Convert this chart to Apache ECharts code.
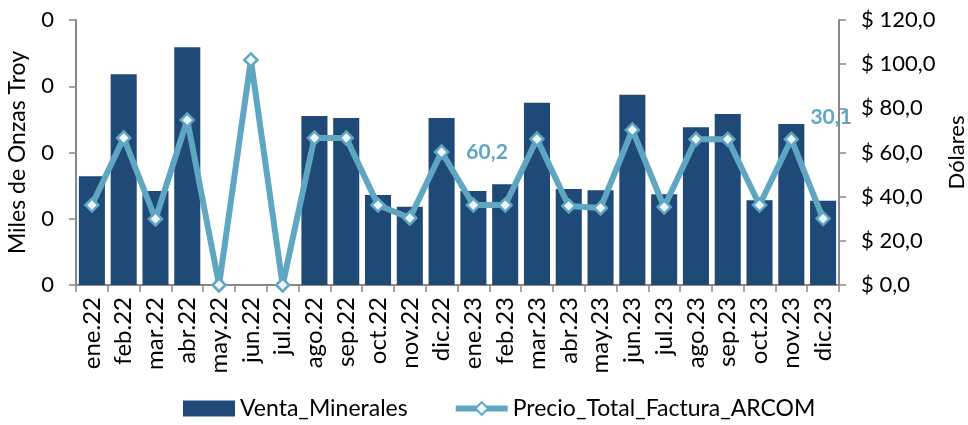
<!DOCTYPE html>
<html>
<head>
<meta charset="utf-8">
<script src="https://cdn.jsdelivr.net/npm/echarts@6/dist/echarts.min.js"></script>
<style>
  html, body { margin: 0; padding: 0; background: #fff; }
  #chart { width: 968px; height: 425px; }
</style>
</head>
<body>
<div id="chart"></div>
<script>
// datos
const meses = ["ene.22", "feb.22", "mar.22", "abr.22", "may.22", "jun.22", "jul.22", "ago.22", "sep.22", "oct.22", "nov.22", "dic.22",
  "ene.23", "feb.23", "mar.23", "abr.23", "may.23", "jun.23", "jul.23", "ago.23", "sep.23", "oct.23", "nov.23", "dic.23"];
const ventaMinerales = [0.164, 0.318, 0.142, 0.359, 0, 0, 0, 0.255, 0.252, 0.136, 0.118, 0.252,
  0.142, 0.152, 0.275, 0.145, 0.143, 0.287, 0.137, 0.238, 0.258, 0.128, 0.243, 0.127];
const precioFactura = [36.2, 66.6, 29.9, 74.7, 0, 101.9, 0, 66.6, 66.6, 36.2, 30.3, 60.2,
  36.2, 36.2, 66.1, 35.8, 34.9, 70.2, 35.3, 66.0, 66.0, 36.2, 66.0, 30.1];
const etiquetas = { 11: ["right", [12, 0]], 23: ["top", [8, -78]] }; // indices con etiqueta visible

const azulOscuro = "#1F4A78";
const azulClaro = "#5FA6C3";
const fuente = "Lato";

let myChart = echarts.init(document.getElementById("chart"));

const lineData = precioFactura.map((v, i) => {
  if (etiquetas[i] === undefined) return v;
  return {
    value: v,
    label: {
      show: true,
      position: etiquetas[i][0],
      offset: etiquetas[i][1],
      formatter: (p) => p.value.toFixed(1).replace(".", ","),
      color: azulClaro,
      fontWeight: "bold",
      fontSize: 21,
      fontFamily: fuente,
    },
  };
});

let option = {
  animation: false,
  textStyle: { fontFamily: fuente },
  grid: { left: 76, right: 129, top: 20, bottom: 140, outerBoundsMode: "none" },
  legend: {
    bottom: 0,
    left: 178,
    itemGap: 45,
    itemWidth: 52,
    itemHeight: 16,
    textStyle: { fontSize: 23, color: "#000", fontFamily: fuente },
    data: [
      { name: "Venta_Minerales", icon: "rect", itemStyle: { color: azulOscuro } },
      { name: "Precio_Total_Factura_ARCOM", lineStyle: { width: 6, color: azulClaro } },
    ],
  },
  xAxis: {
    type: "category",
    data: meses,
    axisLine: { lineStyle: { color: "#888", width: 2 } },
    axisTick: { show: true, length: 7, lineStyle: { color: "#888", width: 1.5 } },
    axisLabel: { rotate: 90, fontSize: 24, color: "#000", margin: 12, interval: 0 },
  },
  yAxis: [
    {
      type: "value",
      min: 0,
      max: 0.4,
      interval: 0.1,
      name: "Miles de Onzas Troy",
      nameLocation: "middle",
      nameGap: 47,
      nameTextStyle: { fontSize: 23, color: "#000" },
      axisLine: { show: true, lineStyle: { color: "#888", width: 2 } },
      axisTick: { show: true, length: 7, lineStyle: { color: "#888", width: 1.5 } },
      axisLabel: { fontSize: 22, color: "#000", margin: 22, formatter: (v) => v.toFixed(0) },
      splitLine: { show: false },
    },
    {
      type: "value",
      min: 0,
      max: 120,
      interval: 20,
      name: "Dólares",
      nameLocation: "middle",
      nameGap: 106,
      nameRotate: 90,
      nameTextStyle: { fontSize: 22, color: "#000" },
      axisLine: { show: true, lineStyle: { color: "#888", width: 2 } },
      axisTick: { show: true, length: 7, lineStyle: { color: "#888", width: 1.5 } },
      axisLabel: {
        fontSize: 22,
        color: "#000",
        margin: 22,
        formatter: (v) => "$ " + v.toFixed(1).replace(".", ","),
      },
      splitLine: { show: false },
    },
  ],
  series: [
    {
      name: "Venta_Minerales",
      type: "bar",
      yAxisIndex: 0,
      data: ventaMinerales,
      barCategoryGap: "18%",
      itemStyle: { color: azulOscuro },
    },
    {
      name: "Precio_Total_Factura_ARCOM",
      type: "line",
      yAxisIndex: 1,
      data: lineData,
      symbol: "diamond",
      symbolSize: 13,
      lineStyle: { color: azulClaro, width: 6 },
      itemStyle: { color: "#eef6fa", borderColor: azulClaro, borderWidth: 2.5 },
      z: 5,
    },
  ],
};

myChart.setOption(option);
</script>
</body>
</html>
